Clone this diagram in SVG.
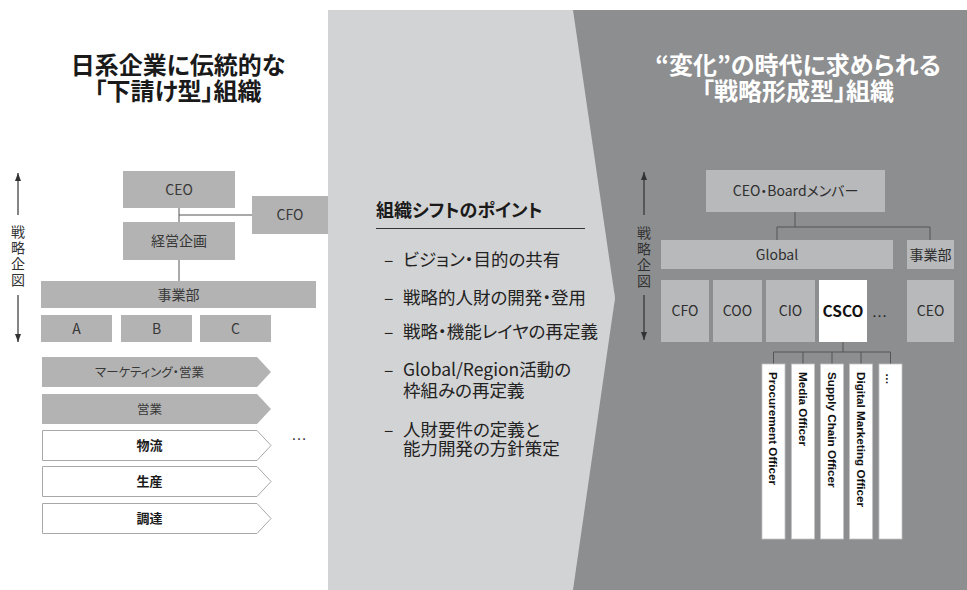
<svg xmlns="http://www.w3.org/2000/svg" width="967" height="590" viewBox="0 0 967 590">
<defs>
<style>
text{font-family:"Noto Sans CJK JP","Noto Sans",sans-serif;font-feature-settings:"palt";}
.title{font-size:24px;font-weight:700;text-anchor:middle}
.lbox{fill:#b3b3b3}
.lt{font-size:14px;fill:#383838;text-anchor:middle}
.pt{font-size:12.5px;fill:#383838;text-anchor:middle}
.ptb{font-size:13px;font-weight:700;fill:#1a1a1a;text-anchor:middle}
.chg{fill:#b3b3b3}
.chw{fill:#fff;stroke:#a8a8a8;stroke-width:1}
.rbox{fill:#b8b9bb}
.rt{font-size:14px;fill:#2e2e2e;text-anchor:middle}
.bar{fill:#fff;stroke:#c4c4c4;stroke-width:0.8}
.bt{font-family:"Liberation Sans",Arial,sans-serif;font-size:11.7px;font-weight:700;fill:#111}
.item{font-size:17.5px;fill:#222}
.conn{stroke:#555;stroke-width:1;fill:none}
.vt{font-size:14px;text-anchor:middle;fill:#333}
.arr{stroke:#333;stroke-width:1.2;fill:none;marker-end:url(#ah)}
</style>
<marker id="ah" markerWidth="8" markerHeight="6" refX="8" refY="3" orient="auto" markerUnits="userSpaceOnUse"><path d="M0,0 L8,3 L0,6 z" fill="#333"/></marker>
</defs>

<!-- backgrounds -->
<rect x="0" y="0" width="967" height="590" fill="#ffffff"/>
<polygon points="328,10 580,10 615,298 580,590 328,590" fill="#d2d3d4"/>
<polygon points="573,10 967,10 967,590 573,590 615,298" fill="#8d8e90"/>

<!-- titles -->
<g id="title-left">
<text class="title" x="178" y="74" fill="#1a1a1a">日系企業に伝統的な</text>
<text class="title" x="178" y="100" fill="#1a1a1a">「下請け型」組織</text>
</g>
<g id="title-right">
<text class="title" x="798" y="74" fill="#ffffff">“変化”の時代に求められる</text>
<text class="title" x="798" y="100" fill="#ffffff">「戦略形成型」組織</text>
</g>

<!-- left axis -->
<g id="axis-left">
<line class="arr" x1="18" y1="215" x2="18" y2="173"/>
<line class="arr" x1="18" y1="295" x2="18" y2="342"/>
<text class="vt" x="18" y="237">戦</text>
<text class="vt" x="18" y="253">略</text>
<text class="vt" x="18" y="269">企</text>
<text class="vt" x="18" y="285">図</text>
</g>

<!-- connectors -->
<g id="connectors">
<path class="conn" d="M179,208 V222 M179,215 H252 M179,260 V281"/>
<path class="conn" d="M795,212 V227 M777,240 V227 H930 V240"/>
<path class="conn" d="M843,342 V352 M773.5,352 H890.5 M773.5,352 V364 M803,352 V364 M832,352 V364 M861,352 V364 M890.5,352 V364"/>
</g>

<!-- left org -->
<g id="l-ceo"><rect class="lbox" x="123" y="171" width="112" height="37"/><text class="lt" x="179" y="194.5">CEO</text></g>
<g id="l-cfo"><rect class="lbox" x="252" y="196" width="76" height="38"/><text class="lt" x="290" y="220">CFO</text></g>
<g id="l-keiei"><rect class="lbox" x="123" y="222" width="112" height="38"/><text class="lt" x="179" y="246">経営企画</text></g>
<g id="l-jigyo"><rect class="lbox" x="41" y="281" width="275" height="27"/><text class="lt" x="178.5" y="299.5">事業部</text></g>
<g id="l-a"><rect class="lbox" x="41" y="315" width="71" height="27"/><text class="lt" x="76.5" y="333.5">A</text></g>
<g id="l-b"><rect class="lbox" x="121" y="315" width="71" height="27"/><text class="lt" x="156.5" y="333.5">B</text></g>
<g id="l-c"><rect class="lbox" x="200" y="315" width="71" height="27"/><text class="lt" x="235.5" y="333.5">C</text></g>

<g id="p-marketing"><polygon class="chg" points="42,357 257,357 271,372 257,387 42,387"/><text class="pt" x="149.5" y="376.5">マーケティング・営業</text></g>
<g id="p-eigyo"><polygon class="chg" points="42,394 257,394 271,409 257,424 42,424"/><text class="pt" x="149.5" y="413.5">営業</text></g>
<g id="p-butsuryu"><polygon class="chw" points="42.5,430.5 257,430.5 271,445.5 257,460.5 42.5,460.5"/><text class="ptb" x="149.5" y="450">物流</text></g>
<g id="p-seisan"><polygon class="chw" points="42.5,466.5 257,466.5 271,481.5 257,496.5 42.5,496.5"/><text class="ptb" x="149.5" y="486">生産</text></g>
<g id="p-chotatsu"><polygon class="chw" points="42.5,503.5 257,503.5 271,518.5 257,533.5 42.5,533.5"/><text class="ptb" x="149.5" y="523">調達</text></g>
<g id="l-more"><text x="299" y="440" font-size="16" text-anchor="middle" fill="#333" style="font-family:'Liberation Sans',sans-serif">…</text></g>

<!-- middle -->
<g id="points">
<text x="376" y="217" font-size="18" font-weight="700" fill="#1a1a1a">組織シフトのポイント</text>
<line x1="376" y1="228.5" x2="585" y2="228.5" stroke="#333" stroke-width="1.2"/>
<text class="item" x="384" y="266">–</text><text class="item" x="403" y="266">ビジョン・目的の共有</text>
<text class="item" x="384" y="304">–</text><text class="item" x="403" y="304">戦略的人財の開発・登用</text>
<text class="item" x="384" y="338">–</text><text class="item" x="403" y="338">戦略・機能レイヤの再定義</text>
<text class="item" x="384" y="376">–</text><text class="item" x="403" y="376">Global/Region活動の</text>
<text class="item" x="403" y="397">枠組みの再定義</text>
<text class="item" x="384" y="436">–</text><text class="item" x="403" y="436">人財要件の定義と</text>
<text class="item" x="403" y="455">能力開発の方針策定</text>
</g>

<!-- right axis -->
<g id="axis-right">
<line class="arr" x1="644" y1="215" x2="644" y2="172"/>
<line class="arr" x1="644" y1="295" x2="644" y2="340"/>
<text class="vt" x="644" y="238">戦</text>
<text class="vt" x="644" y="254">略</text>
<text class="vt" x="644" y="270">企</text>
<text class="vt" x="644" y="286">図</text>
</g>

<!-- right org -->
<g id="r-board"><rect class="rbox" x="706" y="170" width="179" height="42"/><text class="rt" x="795.5" y="196">CEO・Boardメンバー</text></g>
<g id="r-global"><rect class="rbox" x="661" y="240" width="232" height="29"/><text class="rt" x="777" y="259.5">Global</text></g>
<g id="r-jigyo"><rect class="rbox" x="907" y="240" width="47" height="29"/><text class="rt" x="930.5" y="259.5">事業部</text></g>
<g id="r-cfo"><rect class="rbox" x="661" y="280" width="48" height="62"/><text class="rt" x="685" y="316">CFO</text></g>
<g id="r-coo"><rect class="rbox" x="713" y="280" width="49" height="62"/><text class="rt" x="737.5" y="316">COO</text></g>
<g id="r-cio"><rect class="rbox" x="766" y="280" width="49" height="62"/><text class="rt" x="790.5" y="316">CIO</text></g>
<g id="r-csco"><rect x="819" y="280" width="48" height="62" fill="#ffffff"/><text x="843" y="316.5" font-size="15.5" font-weight="700" fill="#111" text-anchor="middle">CSCO</text></g>
<g id="r-more"><text x="879.5" y="317" font-size="16" text-anchor="middle" fill="#222" style="font-family:'Liberation Sans',sans-serif">…</text></g>
<g id="r-ceo"><rect class="rbox" x="907" y="280" width="47" height="62"/><text class="rt" x="930.5" y="316">CEO</text></g>

<g id="bar-procurement"><rect class="bar" x="762" y="364" width="23" height="175"/><text class="bt" transform="translate(773.5,372) rotate(90)" dy="0.35em">Procurement Officer</text></g>
<g id="bar-media"><rect class="bar" x="791.5" y="364" width="23" height="175"/><text class="bt" transform="translate(803,372) rotate(90)" dy="0.35em">Media Officer</text></g>
<g id="bar-supply"><rect class="bar" x="820.5" y="364" width="23" height="175"/><text class="bt" transform="translate(832,372) rotate(90)" dy="0.35em">Supply Chain Officer</text></g>
<g id="bar-digital"><rect class="bar" x="849.5" y="364" width="23" height="175"/><text class="bt" transform="translate(861,372) rotate(90)" dy="0.35em">Digital Marketing Officer</text></g>
<g id="bar-more"><rect class="bar" x="879" y="364" width="23" height="175"/><text class="bt" transform="translate(890.5,373) rotate(90)" dy="0.35em">…</text></g>
</svg>
